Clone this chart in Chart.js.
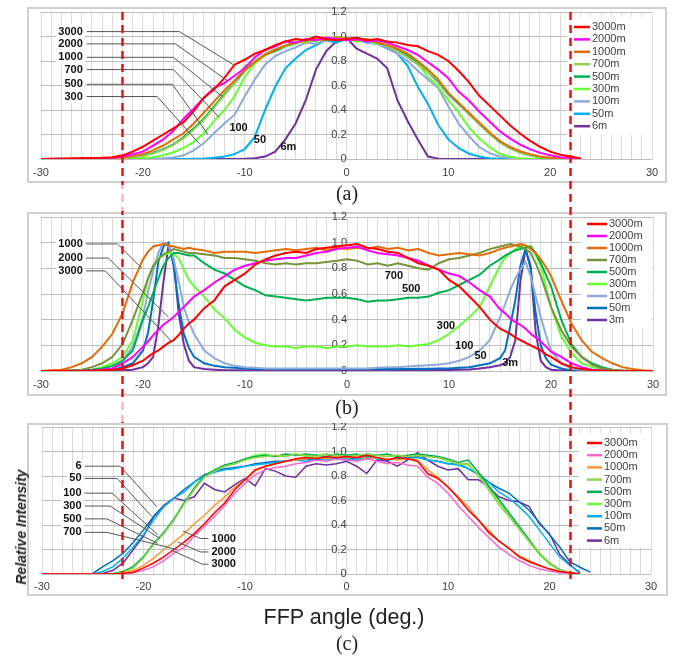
<!DOCTYPE html>
<html>
<head>
<meta charset="utf-8">
<script src="https://cdn.jsdelivr.net/npm/chart.js@4.4.0/dist/chart.umd.min.js"></script>
<style>
  body { margin: 0; background: #fff; width: 674px; height: 656px; position: relative; overflow: hidden; font-family: "Liberation Sans", Arial, sans-serif; }
  canvas { position: absolute; }
  .txt { position: absolute; transform: translate(-50%, -50%); white-space: nowrap; color: #222; }
</style>
</head>
<body>
<canvas id="chartA" width="640" height="176" style="left:27px;top:7px;width:640px;height:176px"></canvas>
<canvas id="chartB" width="640" height="184" style="left:27px;top:212px;width:640px;height:184px"></canvas>
<canvas id="chartC" width="641" height="173" style="left:27px;top:423px;width:641px;height:173px"></canvas>
<canvas id="overlay" width="674" height="656" style="left:0;top:0;width:674px;height:656px;pointer-events:none"></canvas>

<div class="txt" style="left:347px;top:193px;font:20px 'Liberation Serif','Times New Roman',serif">(a)</div>
<div class="txt" style="left:347px;top:407px;font:20px 'Liberation Serif','Times New Roman',serif">(b)</div>
<div class="txt" style="left:344px;top:617px;font:21.5px 'Liberation Sans',Arial,sans-serif">FFP angle (deg.)</div>
<div class="txt" style="left:347px;top:643px;font:20px 'Liberation Serif','Times New Roman',serif">(c)</div>
<div class="txt" style="left:21px;top:527px;font:italic bold 14px 'Liberation Sans',Arial,sans-serif;transform:translate(-50%,-50%) rotate(-90deg)">Relative Intensity</div>

<script>
// ---- panel (a) ----
const anglesA = [-30,-24,-23,-22,-21,-20,-19,-18,-17,-16,-15,-14,-13,-12,-11,-10,-9,-8,-7,-6,-5,-4,-3,-2,-1,0,1,2,3,4,5,6,7,8,9,10,11,12,13,14,15,16,17,18,19,20,21,22,23];
const namesA = ['3000m','2000m','1000m','700m','500m','300m','100m','50m','6m'];
const a3000m = [0, 0.01,0.015,0.03,0.06,0.10,0.15, 0.20,0.25,0.30,0.39,0.50,0.57, 0.66,0.77,0.81,0.86,0.89,0.93, 0.96,0.98,0.97,1.0,0.98,0.97, 0.98,0.99,0.97,0.98,0.96,0.95, 0.93,0.92,0.88,0.85,0.80,0.72, 0.63,0.52,0.44,0.36,0.28,0.21, 0.15,0.10,0.06,0.035,0.02,0.005];
const a2000m = [0, 0.005,0.01,0.02,0.04,0.06,0.11, 0.16,0.23,0.33,0.41,0.50,0.58, 0.62,0.68,0.74,0.83,0.89,0.92, 0.96,0.95,0.98,0.97,0.99,0.98, 0.97,0.98,0.96,0.97,0.95,0.92, 0.89,0.85,0.79,0.73,0.66,0.55, 0.48,0.39,0.31,0.23,0.17,0.12, 0.08,0.05,0.03,0.015,0.008,0.003];
const a1000m = [0, 0.003,0.006,0.012,0.025,0.04,0.07, 0.11,0.16,0.21,0.29,0.38,0.47, 0.56,0.64,0.72,0.79,0.85,0.89, 0.93,0.95,0.97,0.98,0.97,0.99, 0.98,0.97,0.98,0.95,0.93,0.90, 0.86,0.80,0.73,0.65,0.54,0.46, 0.38,0.30,0.22,0.15,0.10,0.065, 0.04,0.02,0.01,0.005,0.002,0];
const a700m = [0, 0.002,0.004,0.007,0.013,0.025,0.045, 0.075,0.115,0.17,0.24,0.32,0.42, 0.52,0.62,0.76,0.80,0.86,0.90, 0.92,0.96,0.95,0.98,0.97,1.0, 0.98,0.97,0.98,0.95,0.92,0.88, 0.83,0.77,0.71,0.64,0.54,0.46, 0.37,0.29,0.21,0.14,0.09,0.05, 0.03,0.015,0.006,0.003,0.001,0];
const a500m = [0, 0.002,0.004,0.008,0.015,0.03,0.05, 0.08,0.12,0.18,0.25,0.33,0.43, 0.53,0.62,0.72,0.80,0.85,0.88, 0.92,0.95,0.96,0.98,0.99,0.97, 0.98,0.99,0.97,0.96,0.92,0.89, 0.84,0.78,0.71,0.63,0.53,0.45, 0.37,0.29,0.21,0.14,0.09,0.055, 0.03,0.015,0.007,0.003,0.001,0];
const a300m = [0, 0,0.001,0.002,0.004,0.008,0.015, 0.03,0.055,0.09,0.14,0.21,0.31, 0.40,0.51,0.67,0.78,0.85,0.88, 0.92,0.94,0.97,0.96,0.99,0.97, 0.98,0.96,0.97,0.94,0.93,0.90, 0.85,0.78,0.67,0.59,0.48,0.38, 0.26,0.17,0.10,0.045,0.018,0.007, 0.002,0,0,0,0,0];
const a100m = [0, 0,0,0,0.001,0.002,0.004, 0.007,0.012,0.03,0.07,0.13,0.21, 0.29,0.36,0.51,0.65,0.77,0.84, 0.88,0.91,0.95,0.94,0.97,0.99, 0.97,0.98,0.95,0.94,0.90,0.86, 0.80,0.72,0.65,0.58,0.43,0.29, 0.19,0.10,0.05,0.02,0.008,0.003, 0,0,0,0,0,0];
const a50m = [0, 0,0,0,0,0,0, 0,0,0,0.002,0.005,0.01, 0.02,0.04,0.08,0.18,0.40,0.59, 0.74,0.82,0.89,0.93,0.97,0.95, 0.98,0.97,0.95,0.94,0.91,0.86, 0.76,0.59,0.45,0.28,0.16,0.09, 0.045,0.02,0.007,0.002,0,0, 0,0,0,0,0,0];
const a6m = [0, 0,0,0,0,0,0, 0,0,0,0,0,0, 0,0,0.002,0.006,0.02,0.06, 0.16,0.29,0.48,0.73,0.88,0.96, 0.99,0.90,0.86,0.82,0.74,0.48, 0.31,0.16,0.02,0.003,0,0, 0,0,0,0,0,0, 0,0,0,0,0,0];
const colorsA = ['#ff0000','#ff00ff','#e46c0a','#92d050','#00b050','#66ff33','#8eaadb','#00b0f0','#7030a0'];

// ---- panel (b) ----
const anglesB = [-30,-29,-28,-27,-26,-25,-24,-23,-22,-21, -20,-19.5,-19,-18.5,-18,-17.5,-17,-16.5,-16,-15.5,-15, -14,-13,-12,-11,-10,-9,-8,-7,-6,-5,-4,-3,-2,-1, 0,1,2,3,4,5,6,7,8,9,10,11,12,13,14, 15,15.5,16,16.5,17,17.5,18,18.5,19,19.5,20, 21,22,23,24,25,26,27,28,29,30];
const namesB = ['3000m','2000m','1000m','700m','500m','300m','100m','50m','3m'];
const b3000m = [0,0,0,0,0,0.002,0.005,0.01,0.02,0.045, 0.08,0.11,0.14,0.16,0.19,0.22,0.24,0.28,0.33,0.37,0.40, 0.49,0.55,0.66,0.71,0.76,0.83,0.87,0.90,0.92,0.93,0.92,0.95,0.96,0.97, 0.98,0.99,0.96,0.95,0.93,0.92,0.88,0.84,0.82,0.79,0.71,0.66,0.58,0.50,0.40, 0.33,0.31,0.29,0.26,0.24,0.22,0.20,0.18,0.16,0.13,0.11, 0.06,0.03,0.015,0.005,0.002,0,0,0,0,0];
const b2000m = [0,0,0,0,0,0.003,0.01,0.02,0.06,0.11, 0.19,0.23,0.28,0.32,0.36,0.39,0.42,0.46,0.50,0.54,0.58, 0.63,0.69,0.74,0.79,0.82,0.84,0.86,0.87,0.88,0.88,0.90,0.92,0.93,0.95, 0.96,0.97,0.94,0.92,0.91,0.90,0.88,0.86,0.82,0.79,0.76,0.74,0.69,0.63,0.58, 0.48,0.45,0.41,0.38,0.36,0.33,0.29,0.26,0.23,0.19,0.15, 0.11,0.06,0.03,0.01,0.003,0,0,0,0,0];
const b1000m = [0,0.005,0.01,0.03,0.06,0.11,0.19,0.29,0.45,0.69, 0.87,0.93,0.97,0.98,0.99,0.98,0.97,0.96,0.95,0.96,0.95, 0.94,0.92,0.93,0.93,0.93,0.92,0.93,0.94,0.95,0.94,0.95,0.96,0.94,0.96, 0.95,0.96,0.95,0.97,0.95,0.96,0.94,0.95,0.92,0.90,0.91,0.92,0.91,0.90,0.92, 0.95,0.96,0.97,0.98,0.99,0.98,0.95,0.92,0.87,0.81,0.74, 0.55,0.37,0.24,0.15,0.10,0.06,0.03,0.015,0.005,0];
const b700m = [0,0,0.003,0.006,0.01,0.03,0.06,0.11,0.21,0.40, 0.61,0.72,0.82,0.87,0.91,0.93,0.95,0.94,0.93,0.92,0.92, 0.91,0.90,0.88,0.88,0.87,0.86,0.84,0.83,0.84,0.83,0.84,0.84,0.85,0.86, 0.87,0.86,0.83,0.84,0.82,0.84,0.82,0.80,0.79,0.84,0.87,0.88,0.90,0.92,0.95, 0.97,0.98,0.99,0.98,0.97,0.95,0.92,0.84,0.74,0.62,0.50, 0.32,0.19,0.11,0.05,0.02,0.01,0.003,0,0,0];
const b500m = [0,0,0,0.003,0.006,0.01,0.02,0.04,0.08,0.16, 0.40,0.50,0.61,0.72,0.82,0.88,0.92,0.92,0.91,0.90,0.90, 0.84,0.79,0.76,0.71,0.66,0.63,0.59,0.58,0.57,0.56,0.55,0.56,0.57,0.57, 0.57,0.56,0.54,0.55,0.55,0.56,0.57,0.57,0.58,0.61,0.63,0.67,0.71,0.75,0.82, 0.87,0.90,0.92,0.94,0.95,0.96,0.97,0.92,0.84,0.75,0.66, 0.40,0.21,0.11,0.06,0.03,0.01,0.003,0,0,0];
const b300m = [0,0,0,0,0,0.01,0.03,0.06,0.11,0.24, 0.55,0.72,0.82,0.88,0.90,0.92,0.91,0.88,0.79,0.71,0.66, 0.58,0.48,0.41,0.32,0.26,0.22,0.20,0.19,0.19,0.18,0.19,0.19,0.18,0.19, 0.19,0.20,0.19,0.19,0.19,0.20,0.19,0.20,0.21,0.24,0.29,0.35,0.42,0.50,0.66, 0.82,0.88,0.92,0.95,0.97,0.98,0.97,0.90,0.82,0.66,0.50, 0.27,0.14,0.06,0.03,0.01,0,0,0,0,0];
const b100m = [0,0,0,0,0,0,0.01,0.02,0.08,0.19, 0.42,0.62,0.78,0.92,1.0,0.98,0.87,0.70,0.50,0.38,0.29, 0.16,0.10,0.06,0.04,0.03,0.025,0.02,0.02,0.02,0.02,0.02,0.02,0.02,0.02, 0.02,0.02,0.02,0.025,0.03,0.03,0.035,0.04,0.045,0.05,0.06,0.08,0.11,0.16,0.24, 0.42,0.52,0.63,0.72,0.79,0.85,0.74,0.58,0.42,0.28,0.16, 0.06,0.02,0.01,0.003,0,0,0,0,0,0];
const b50m = [0,0,0,0,0,0,0,0.01,0.03,0.06, 0.16,0.30,0.55,0.85,0.97,1.0,0.82,0.52,0.29,0.18,0.11, 0.06,0.04,0.03,0.025,0.02,0.015,0.015,0.015,0.015,0.015,0.015,0.015,0.015,0.015, 0.015,0.015,0.015,0.015,0.015,0.015,0.015,0.018,0.018,0.02,0.02,0.025,0.03,0.045,0.06, 0.10,0.16,0.35,0.55,0.82,0.95,0.80,0.45,0.20,0.10,0.05, 0.02,0.005,0,0,0,0,0,0,0,0];
const b3m = [0,0,0,0,0,0,0,0,0.005,0.01, 0.03,0.06,0.11,0.35,0.69,0.98,0.87,0.45,0.21,0.08,0.03, 0.015,0.01,0.005,0.005,0.005,0.005,0.005,0.005,0.005,0.005,0.005,0.005,0.005,0.005, 0.005,0.005,0.005,0.005,0.005,0.005,0.005,0.005,0.006,0.007,0.008,0.01,0.012,0.02,0.03, 0.045,0.06,0.11,0.24,0.70,0.95,0.82,0.30,0.08,0.03,0.01, 0.003,0,0,0,0,0,0,0,0,0];
const colorsB = ['#ff0000','#ff00ff','#e46c0a','#77933c','#00b050','#66ff33','#8eaadb','#0070c0','#7030a0'];

// ---- panel (c) ----
const anglesC = [-30, -26,-25,-24,-23,-22,-21, -20,-19,-18,-17,-16,-15, -14,-13,-12,-11,-10,-9, -8,-7,-6,-5,-4,-3, -2,-1,0,1,2,3, 4,5,6,7,8,9, 10,11,12,13,14,15, 16,17,18,19,20,21, 22,23,24];
const namesC = ['3000m','2000m','1000m','700m','500m','300m','100m','50m','6m'];
const c3000m = [0, 0,0,0,0.002,0.005,0.015, 0.05,0.09,0.14,0.20,0.26,0.33, 0.41,0.50,0.58,0.69,0.77,0.85, 0.88,0.90,0.92,0.94,0.95,0.94, 0.96,0.95,0.96,0.95,0.97,0.95, 0.93,0.95,0.94,0.92,0.82,0.78, 0.71,0.62,0.52,0.44,0.34,0.27, 0.21,0.14,0.10,0.07,0.04,0.02, 0.01,0,null];
const c2000m = [0, 0,0,0,0.001,0.003,0.01, 0.03,0.06,0.11,0.17,0.22,0.31, 0.39,0.47,0.56,0.66,0.74,0.81, 0.85,0.87,0.88,0.90,0.91,0.93, 0.92,0.94,0.93,0.92,0.94,0.92, 0.90,0.91,0.89,0.88,0.79,0.74, 0.66,0.56,0.47,0.38,0.30,0.22, 0.16,0.11,0.07,0.04,0.025,0.01, 0.005,0,null];
const c1000m = [0, 0,0,0,0.002,0.005,0.03, 0.07,0.13,0.20,0.26,0.33,0.41, 0.48,0.56,0.63,0.71,0.77,0.84, 0.88,0.90,0.92,0.93,0.94,0.95, 0.94,0.96,0.95,0.96,0.94,0.95, 0.94,0.93,0.94,0.93,0.85,0.79, 0.71,0.63,0.55,0.44,0.36,0.27, 0.21,0.15,0.11,0.07,0.04,0.02, 0.01,0,null];
const c700m = [0, 0,0,0,0.001,0.015,0.05, 0.13,0.24,0.33,0.44,0.57,0.69, 0.79,0.84,0.88,0.90,0.93,0.95, 0.96,0.97,0.96,0.98,0.97,0.96, 0.98,0.97,0.96,0.97,0.98,0.97, 0.96,0.97,0.96,0.97,0.96,0.95, 0.93,0.90,0.90,0.80,0.69,0.57, 0.47,0.37,0.27,0.17,0.09,0.03, 0.01,0,null];
const c500m = [0, 0,0,0,0.002,0.02,0.06, 0.14,0.25,0.34,0.45,0.58,0.70, 0.80,0.85,0.89,0.91,0.94,0.96, 0.97,0.96,0.98,0.97,0.98,0.97, 0.96,0.98,0.97,0.98,0.96,0.97, 0.98,0.96,0.97,0.98,0.97,0.96, 0.94,0.91,0.93,0.83,0.72,0.61, 0.50,0.39,0.28,0.17,0.09,0.035, 0.01,0,null];
const c300m = [0, 0,0,0,0.002,0.02,0.06, 0.14,0.25,0.33,0.44,0.58,0.70, 0.80,0.85,0.88,0.90,0.94,0.97, 0.98,0.96,0.97,0.98,0.96,0.97, 0.98,0.96,0.97,0.96,0.98,0.97, 0.96,0.97,0.96,0.97,0.96,0.95, 0.92,0.90,0.89,0.81,0.70,0.59, 0.48,0.37,0.26,0.16,0.08,0.03, 0.01,0,null];
const c100m = [0, 0,0,0.02,0.06,0.13,0.22, 0.32,0.44,0.55,0.62,0.67,0.75, 0.80,0.83,0.85,0.86,0.88,0.89, 0.90,0.91,0.92,0.93,0.92,0.94, 0.93,0.95,0.94,0.93,0.95,0.94, 0.93,0.95,0.94,0.95,0.93,0.92, 0.90,0.89,0.86,0.82,0.75,0.67, 0.62,0.55,0.47,0.36,0.25,0.14, 0.07,0.015,null];
const c50m = [0, 0,0.005,0.06,0.11,0.17,0.26, 0.36,0.47,0.55,0.62,0.69,0.75, 0.81,0.84,0.86,0.87,0.88,0.90, 0.91,0.92,0.92,0.93,0.94,0.93, 0.95,0.94,0.93,0.95,0.94,0.95, 0.93,0.94,0.95,0.96,0.93,0.92, 0.90,0.90,0.86,0.81,0.75,0.70, 0.66,0.59,0.52,0.42,0.32,0.22, 0.10,0.055,0.015];
const c6m = [0, 0,0,0.005,0.03,0.09,0.20, 0.31,0.47,0.56,0.62,0.60,0.63, 0.74,0.69,0.67,0.73,0.78,0.72, 0.86,0.84,0.80,0.79,0.88,0.90, 0.89,0.90,0.92,0.88,0.82,0.93, 0.92,0.88,0.93,0.99,0.93,0.88, 0.85,0.86,0.77,0.77,0.71,0.63, 0.60,0.59,0.55,0.41,0.33,0.16, 0.08,0.005,null];
const colorsC = ['#ff0000','#ff66cc','#ff9933','#92d050','#00b050','#66ff33','#00b0f0','#0070c0','#7030a0'];

// call-out labels, in data units (angle, intensity)
const notesA = [
  {t:'3000', x:-25.9, y:1.04, align:'right', line:[[-25.5,1.04],[-16.4,1.04],[-11.1,0.77]]},
  {t:'2000', x:-25.9, y:0.94, align:'right', line:[[-25.5,0.94],[-16.8,0.94],[-11.7,0.64]]},
  {t:'1000', x:-25.9, y:0.83, align:'right', line:[[-25.5,0.83],[-17.0,0.83],[-12.2,0.51]]},
  {t:'700', x:-25.9, y:0.73, align:'right', line:[[-25.5,0.73],[-17.0,0.73],[-12.5,0.34]]},
  {t:'500', x:-25.9, y:0.61, align:'right', line:[[-25.5,0.61],[-17.1,0.61],[-13.6,0.20]]},
  {t:'300', x:-25.9, y:0.51, align:'right', line:[[-25.5,0.51],[-18.6,0.51],[-14.4,0.12]]},
  {t:'100', x:-10.6, y:0.25},
  {t:'50', x:-8.5, y:0.155},
  {t:'6m', x:-5.7, y:0.10}
];
const notesB = [
  {t:'1000', x:-25.9, y:0.99, align:'right', line:[[-25.6,0.99],[-22.5,0.99],[-20.1,0.80]]},
  {t:'2000', x:-25.9, y:0.88, align:'right', line:[[-25.6,0.88],[-23.4,0.88],[-17.5,0.42]]},
  {t:'3000', x:-25.9, y:0.78, align:'right', line:[[-25.6,0.78],[-23.7,0.78],[-17.2,0.23]]},
  {t:'700', x:4.6, y:0.74},
  {t:'500', x:6.3, y:0.64},
  {t:'300', x:9.7, y:0.35},
  {t:'100', x:11.5, y:0.195},
  {t:'50', x:13.1, y:0.117},
  {t:'3m', x:16.0, y:0.06}
];
const notesC = [
  {t:'6', x:-26.1, y:0.88, align:'right', line:[[-25.8,0.88],[-22.3,0.88],[-18.7,0.55]]},
  {t:'50', x:-26.1, y:0.78, align:'right', line:[[-25.8,0.78],[-22.6,0.78],[-19.2,0.47]]},
  {t:'100', x:-26.1, y:0.66, align:'right', line:[[-25.8,0.66],[-23.1,0.66],[-18.6,0.32]]},
  {t:'300', x:-26.1, y:0.555, align:'right', line:[[-25.8,0.555],[-23.3,0.555],[-18.4,0.29]]},
  {t:'500', x:-26.1, y:0.45, align:'right', line:[[-25.8,0.45],[-23.6,0.45],[-18.6,0.25]]},
  {t:'700', x:-26.1, y:0.34, align:'right', line:[[-25.8,0.34],[-23.6,0.34],[-16.7,0.20]]},
  {t:'1000', x:-13.3, y:0.29, align:'left', line:[[-13.6,0.29],[-14.4,0.29],[-16.1,0.35]]},
  {t:'2000', x:-13.3, y:0.18, align:'left', line:[[-13.6,0.18],[-14.4,0.18],[-16.6,0.26]]},
  {t:'3000', x:-13.3, y:0.08, align:'left', line:[[-13.6,0.08],[-14.2,0.08],[-17.1,0.19]]}
];

const FONT = '"Liberation Sans", Arial, sans-serif';

function framePlugin() {
  return {
    id: 'frame',
    beforeDraw(chart) {
      const c = chart.ctx;
      c.save();
      c.fillStyle = '#fff';
      c.fillRect(0, 0, chart.width, chart.height);
      c.strokeStyle = '#cfcfcf';
      c.lineWidth = 2;
      c.strokeRect(1, 1, chart.width - 2, chart.height - 2);
      c.restore();
    }
  };
}

function legendPlugin(g) {
  return {
    id: 'boxLegend',
    afterDraw(chart) {
      const c = chart.ctx;
      c.save();
      c.fillStyle = '#fff';
      c.fillRect(g.x, g.y, g.w, g.h);
      c.font = '11px ' + FONT;
      c.textBaseline = 'middle';
      c.textAlign = 'left';
      chart.data.datasets.forEach((ds, i) => {
        const y = g.row0 + i * g.step;
        c.strokeStyle = ds.borderColor;
        c.lineWidth = 2.5;
        c.beginPath();
        c.moveTo(g.lx0, y);
        c.lineTo(g.lx1, y);
        c.stroke();
        c.fillStyle = '#404040';
        c.fillText(ds.label, g.tx, y);
      });
      c.restore();
    }
  };
}

function notesPlugin(items) {
  return {
    id: 'notes',
    afterDatasetsDraw(chart) {
      const c = chart.ctx, sx = chart.scales.x, sy = chart.scales.y;
      c.save();
      c.font = 'bold 11px ' + FONT;
      c.textBaseline = 'middle';
      items.forEach(n => {
        if (n.line) {
          c.strokeStyle = '#555';
          c.lineWidth = 1;
          c.beginPath();
          n.line.forEach((p, i) => {
            const px = sx.getPixelForValue(p[0]), py = sy.getPixelForValue(p[1]);
            if (i) c.lineTo(px, py); else c.moveTo(px, py);
          });
          c.stroke();
        }
        const tx = sx.getPixelForValue(n.x), ty = sy.getPixelForValue(n.y);
        const align = n.align || 'center';
        c.textAlign = align;
        if (n.line) {
          const w = c.measureText(n.t).width;
          const x0 = align === 'right' ? tx - w : align === 'left' ? tx : tx - w / 2;
          c.fillStyle = '#fff';
          c.fillRect(x0 - 2, ty - 7, w + 4, 14);
        }
        c.fillStyle = '#111';
        c.fillText(n.t, tx, ty);
      });
      c.restore();
    }
  };
}

function makeChart(id, angles, names, series, colors, lw, pad, axisH, tickPad, legend, notes) {
  const datasets = series.map((vals, i) => ({
    label: names[i],
    data: angles.map((a, j) => ({x: a, y: vals[j]})),
    borderColor: colors[i],
    backgroundColor: colors[i],
    borderWidth: lw,
    pointRadius: 0,
    tension: 0,
    spanGaps: false
  }));
  return new Chart(document.getElementById(id).getContext('2d'), {
    type: 'line',
    data: { datasets: datasets },
    options: {
      responsive: false,
      animation: false,
      layout: { padding: pad },
      plugins: { legend: { display: false }, tooltip: { enabled: false } },
      scales: {
        x: {
          type: 'linear', min: -30, max: 30,
          ticks: {
            stepSize: 1, autoSkip: false, maxRotation: 0, padding: tickPad,
            color: '#404040', font: { size: 11, family: FONT },
            callback: v => (v % 10 === 0 ? String(v) : '')
          },
          grid: { color: '#dadada', lineWidth: 1, drawTicks: false },
          border: { display: false },
          afterFit: s => { s.height = axisH; s.paddingLeft = 0; s.paddingRight = 0; }
        },
        y: {
          type: 'linear', min: 0, max: 1.2, position: { x: 0 },
          ticks: { stepSize: 0.2, padding: 8, color: '#404040', font: { size: 11, family: FONT } },
          grid: { color: '#bdbdbd', lineWidth: 1, drawTicks: false },
          border: { display: false },
          afterFit: s => { s.paddingTop = 0; s.paddingBottom = 0; }
        }
      }
    },
    plugins: [framePlugin(), legendPlugin(legend), notesPlugin(notes)]
  });
}

const chartA = makeChart('chartA', anglesA, namesA,
  [a3000m, a2000m, a1000m, a700m, a500m, a300m, a100m, a50m, a6m], colorsA, 2,
  { left: 14, right: 15, top: 5, bottom: 0 }, 24, 7,
  { x: 540, y: 10, w: 85, h: 118, lx0: 547, lx1: 563, tx: 565, row0: 20, step: 12.4 }, notesA);

const chartB = makeChart('chartB', anglesB, namesB,
  [b3000m, b2000m, b1000m, b700m, b500m, b300m, b100m, b50m, b3m], colorsB, 2,
  { left: 14, right: 14, top: 5, bottom: 0 }, 25, 7,
  { x: 554, y: 6, w: 71, h: 110, lx0: 560, lx1: 580, tx: 582, row0: 12, step: 12 }, notesB);

const chartC = makeChart('chartC', anglesC, namesC,
  [c3000m, c2000m, c1000m, c700m, c500m, c300m, c100m, c50m, c6m], colorsC, 1.5,
  { left: 15, right: 17, top: 4, bottom: 0 }, 22, 6,
  { x: 552, y: 10, w: 72, h: 114, lx0: 560, lx1: 575, tx: 577, row0: 20, step: 12.2 }, notesC);

// red dashed guide lines at +/-22 deg through all three panels
const ov = document.getElementById('overlay').getContext('2d');
ov.strokeStyle = '#f01010';
ov.lineWidth = 2.5;
ov.setLineDash([8, 5]);
const guideX = [-22, 22].map(v => chartA.scales.x.getPixelForValue(v) + 27);
guideX.forEach(px => {
  ov.beginPath();
  ov.moveTo(px, 12);
  ov.lineTo(px, 580);
  ov.stroke();
});
// the left guide is faint in the gaps between the panels
ov.setLineDash([]);
ov.fillStyle = 'rgba(255,255,255,0.7)';
[[185, 211], [398, 422]].forEach(g => ov.fillRect(guideX[0] - 3, g[0], 6, g[1] - g[0]));
</script>
</body>
</html>
